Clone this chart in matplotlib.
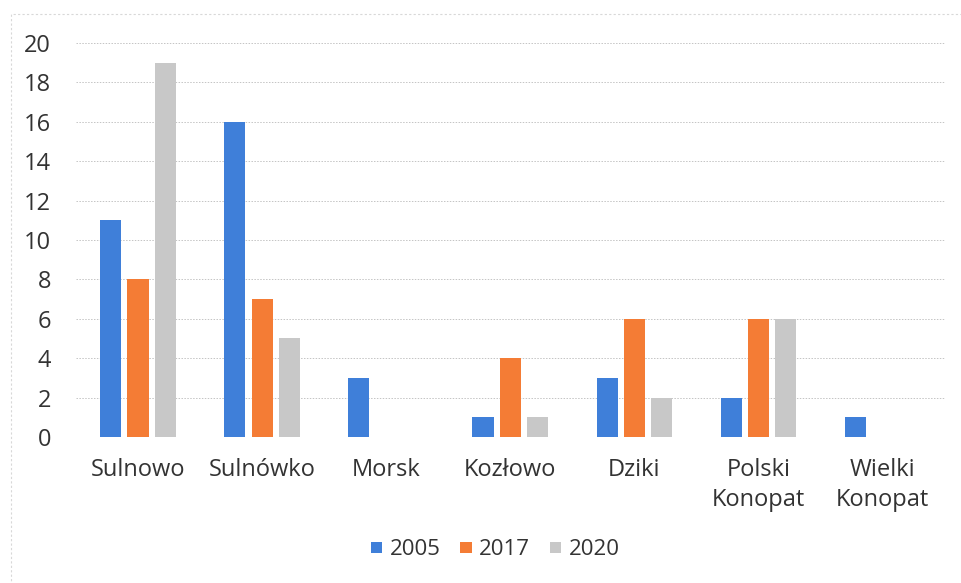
import numpy as np
import matplotlib
matplotlib.use('Agg')
import matplotlib.pyplot as plt
from matplotlib.patches import Rectangle

plt.rcParams['font.family'] = ['Open Sans', 'DejaVu Sans']

categories = ['Sulnowo', 'Sulnówko', 'Morsk', 'Kozłowo', 'Dziki', 'Polski\nKonopat', 'Wielki\nKonopat']
years = ['2005', '2017', '2020']
v2005 = [11, 16, 3, 1, 3, 2, 1]
v2017 = [8, 7, 0, 4, 6, 6, 0]
v2020 = [19, 5, 0, 1, 2, 6, 0]
colors = ['#3f7fd9', '#f47c35', '#c8c8c8']
text_col = '#333333'

fig = plt.figure(figsize=(9.62, 5.83), dpi=100)
ax = fig.add_axes([0.079, 0.2504, 0.903, 0.676])

x = np.arange(len(categories))
w = 0.17
step = 0.22
for i, (vals, lab, c) in enumerate(zip([v2005, v2017, v2020], years, colors)):
    ax.bar(x + (i - 1) * step, vals, width=w, color=c, label=lab, zorder=3)

ax.set_xlim(-0.5, len(categories) - 0.5)
ax.set_ylim(0, 20)
ax.set_yticks(range(0, 21, 2))
ax.set_xticks(x)
ax.set_xticklabels(categories, fontsize=17, color=text_col, linespacing=1.35)
ax.tick_params(axis='y', labelsize=17, labelcolor=text_col, length=0, pad=18)
ax.tick_params(axis='x', length=0, pad=15)
ax.grid(axis='y', color='#c4c4c4', linestyle=(0, (1.5, 1.5)), linewidth=0.7, zorder=0)
for s in ax.spines.values():
    s.set_visible(False)

fig.legend(loc='center', bbox_to_anchor=(0.515, 0.057), ncol=3, frameon=False,
           fontsize=16, handlelength=0.5, handleheight=0.4, handletextpad=0.35,
           columnspacing=0.9, labelcolor=text_col)

# faint outer border of the scanned chart
fig.patches.append(Rectangle((0.011, -0.01), 1.0, 0.986, transform=fig.transFigure,
                             fill=False, edgecolor='#d8d8d8', linewidth=0.8,
                             linestyle=(0, (2, 2))))

fig.savefig('out.png', dpi=100)
